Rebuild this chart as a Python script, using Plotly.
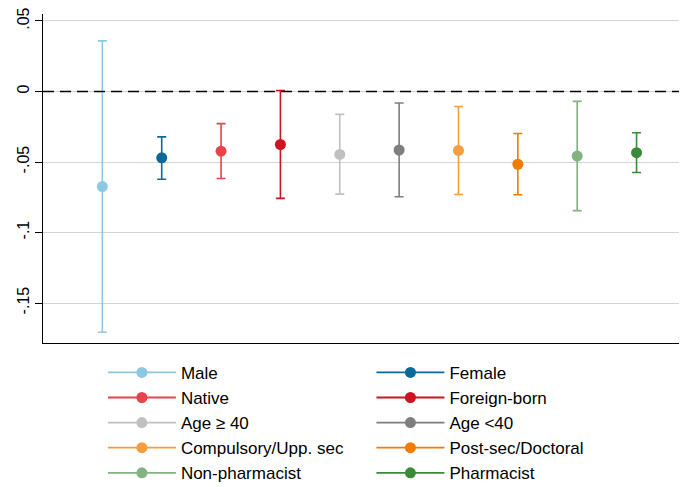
import plotly.graph_objects as go

groups = ["Male", "Female", "Native", "Foreign-born", "Age \u2265 40", "Age <40",
          "Compulsory/Upp. sec", "Post-sec/Doctoral", "Non-pharmacist", "Pharmacist"]
positions = [1, 2, 3, 4, 5, 6, 7, 8, 9, 10]
estimates = [-0.0674, -0.0470, -0.0423, -0.0376, -0.0446, -0.0415, -0.0418, -0.0516, -0.0458, -0.0434]
ci_upper = [0.0359, -0.0322, -0.0228, 0.0007, -0.0162, -0.0082, -0.0106, -0.0298, -0.0070, -0.0293]
ci_lower = [-0.1707, -0.0622, -0.0617, -0.0758, -0.0728, -0.0746, -0.0730, -0.0732, -0.0845, -0.0575]
colors = ["#8DC8E2", "#0A6A9C", "#E8424A", "#CC151F", "#C0C0C0", "#7E7E7E",
          "#F59E3E", "#F07D00", "#82B381", "#3A8A3A"]
ytick_vals = [0.05, 0, -0.05, -0.1, -0.15]
ytick_text = [".05", "0", "-.05", "-.1", "-.15"]

fig = go.Figure()
for i, (g, x, e, u, l, c) in enumerate(zip(groups, positions, estimates, ci_upper, ci_lower, colors)):
    fig.add_trace(go.Scatter(
        x=[x], y=[e], name=g, mode="lines+markers",
        legend="legend" if i % 2 == 0 else "legend2",
        legendgroup=g,
        marker=dict(color=c, size=11),
        line=dict(color=c, width=1.8),
        error_y=dict(type="data", symmetric=False,
                     array=[u - e], arrayminus=[e - l],
                     color=c, thickness=1.6, width=4.5),
    ))

fig.add_hline(y=0, line=dict(color="black", width=1.6, dash="11px,6px"), layer="above")

legend_common = dict(orientation="v", yanchor="top", y=-0.036, xanchor="left",
                     itemwidth=68, font=dict(size=17), tracegroupgap=5,
                     bgcolor="rgba(0,0,0,0)", traceorder="normal")

fig.update_layout(
    width=679, height=479,
    margin=dict(l=35, r=0, t=6, b=144, autoexpand=False),
    plot_bgcolor="white", paper_bgcolor="white",
    font=dict(family="Liberation Sans, Arial, sans-serif", size=16, color="black"),
    showlegend=True,
    legend=dict(x=0.093, **legend_common),
    legend2=dict(x=0.51, **legend_common),
    xaxis=dict(range=[0, 10.85], showgrid=False, zeroline=False, showticklabels=False,
               ticks="", showline=True, linecolor="black", linewidth=1),
    yaxis=dict(range=[-0.17837, 0.05496], tickvals=ytick_vals, ticktext=ytick_text,
               tickangle=-90, ticks="outside", ticklen=7, tickcolor="black",
               showgrid=True, gridcolor="#d4d4d4", gridwidth=1.2, zeroline=False,
               showline=True, linecolor="black", linewidth=1,
               ticklabeloverflow="allow", tickfont=dict(size=16)),
)

fig.write_html("out.html")
